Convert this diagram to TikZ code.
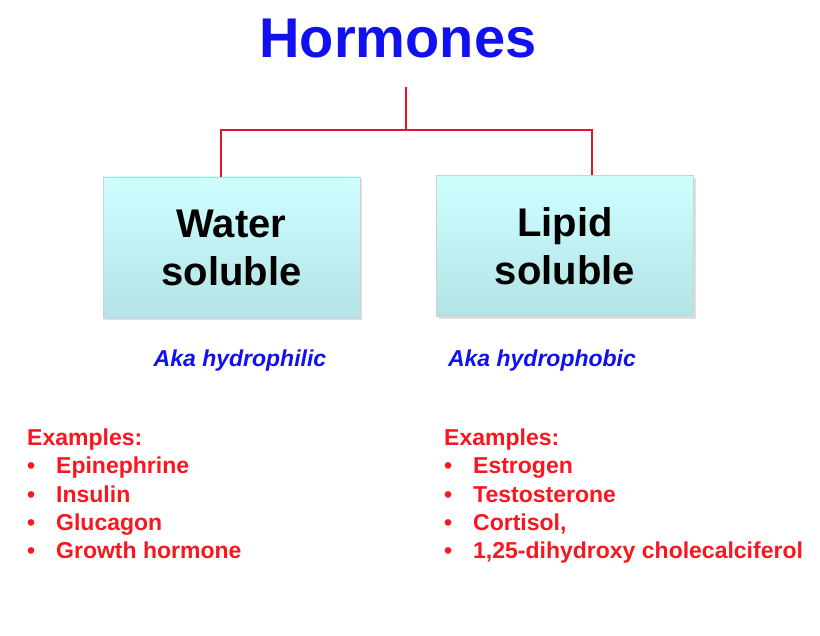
\documentclass[tikz,border=0pt]{standalone}
\usepackage{fontspec}
\setmainfont{Liberation Sans}
\usetikzlibrary{shadows}

\definecolor{hblue}{RGB}{16,16,240}
\definecolor{hred}{RGB}{250,22,30}
\definecolor{linered}{RGB}{228,20,40}
\definecolor{boxtop}{RGB}{206,255,255}
\definecolor{boxbot}{RGB}{180,226,230}

\begin{document}
\begin{tikzpicture}[
    x=1pt,
    y=-1pt,
    link/.style={draw=linered, line width=2.4pt},
    kindbox/.style={draw=black!18, line width=0.6pt, top color=boxtop, bottom color=boxbot,
      minimum width=257pt, minimum height=141pt, align=center,
      font=\fontsize{40}{48}\selectfont\bfseries,
      drop shadow={opacity=0.25, shadow xshift=2pt, shadow yshift=-2.5pt}},
    heading/.style={font=\fontsize{56}{60}\selectfont\bfseries, text=hblue, anchor=base},
    aka/.style={font=\fontsize{23}{28}\selectfont\bfseries\itshape, text=hblue, anchor=base},
    item/.style={font=\fontsize{23}{28}\selectfont\bfseries, text=hred, anchor=base west, inner sep=0pt}
  ]
    \useasboundingbox (0,0) rectangle (820,636);

    \node[heading] (hormones) at (398,58) {Hormones};

    \node[kindbox] (water) at (231.5,247.5) {Water\\soluble};
    \node[kindbox] (lipid) at (565,246) {Lipid\\soluble};

    % tree connector
    \coordinate (stem) at (406,87);
    \coordinate (split) at (406,130);
    \draw[link] (stem) -- (split);
    \draw[link] (split) -| ([xshift=-10.5pt]water.north);
    \draw[link] (split) -| ([xshift=27pt]lipid.north);

    \node[aka] (philic) at (240,367) {Aka hydrophilic};
    \node[aka] (phobic) at (542,367) {Aka hydrophobic};

    % examples
    \node[item] (w0) at (27,446) {Examples:};
    \foreach \t [count=\i] in {Epinephrine, Insulin, Glucagon, Growth hormone} {
      \node[item] (w\i) at (27,446+28*\i) {\makebox[29pt][l]{\textbullet}\t};
    }
    \node[item] (l0) at (444,446) {Examples:};
    \foreach \t [count=\i] in {Estrogen, Testosterone, {Cortisol,}, {1,25-dihydroxy cholecalciferol}} {
      \node[item] (l\i) at (444,446+28*\i) {\makebox[29pt][l]{\textbullet}\t};
    }
  \end{tikzpicture}
\end{document}
